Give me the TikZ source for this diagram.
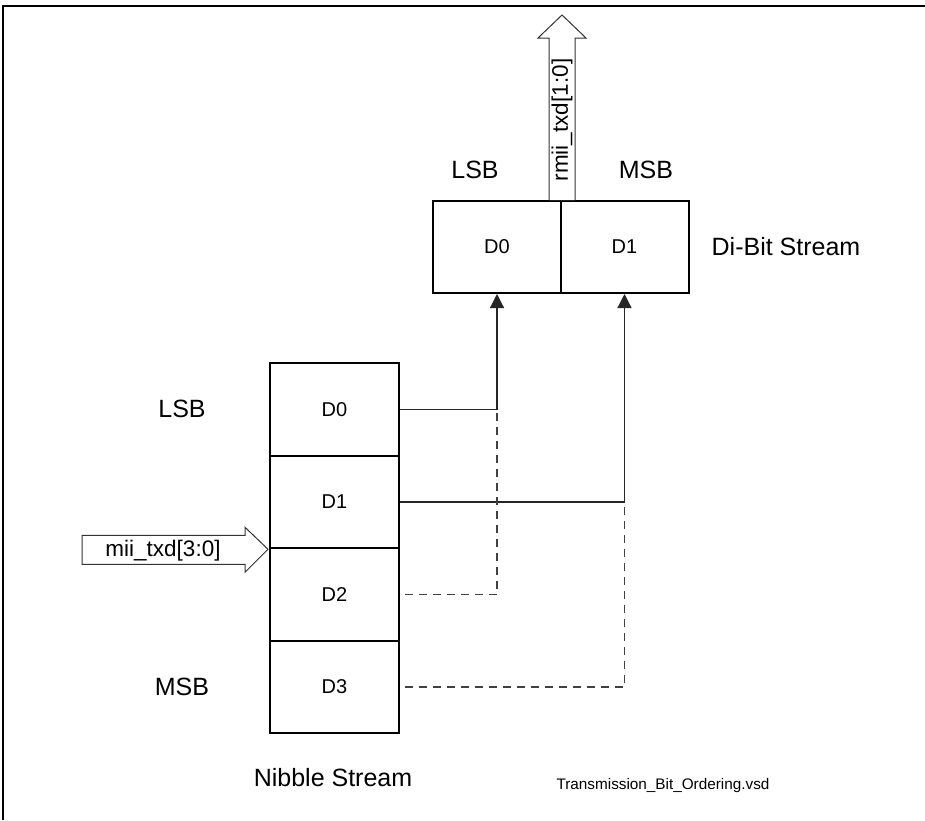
\documentclass[tikz,border=0pt]{standalone}
\usepackage{fontspec}
\setmainfont{Liberation Sans}
\usetikzlibrary{arrows.meta,calc}
\begin{document}
\begin{tikzpicture}[x=1pt,y=-1pt,
  cell/.style={draw,line width=2pt,minimum width=129pt,minimum height=92.5pt,inner sep=0pt,font=\fontsize{20}{24}\selectfont},
  dcell/.style={draw,line width=2pt,minimum width=128pt,minimum height=92pt,inner sep=0pt,font=\fontsize{20}{24}\selectfont},
  lbl/.style={inner sep=0pt,font=\fontsize{25}{30}\selectfont},
  conn/.style={line width=1.2pt,draw=black!85},
  dconn/.style={line width=1.3pt,draw=black!75,dash pattern=on 8pt off 6pt},
  tip/.style={-{Triangle[length=14pt,width=14pt]}},
  blockarrow/.style={draw=black!80,line width=1pt,fill=white}]
\useasboundingbox (0,0) rectangle (925,820);
% frame
\draw[line width=2pt] (3,820) -- (3,6) -- (925,6);
% nibble stream
\node[cell] (n0) at (334.5,409.5) {D0};
\node[cell] (n1) at (334.5,502) {D1};
\node[cell] (n2) at (334.5,594.5) {D2};
\node[cell] (n3) at (334.5,687) {D3};
% di-bit stream
\node[dcell] (d0) at (497,247) {D0};
\node[dcell] (d1) at (624.5,247) {D1};
% labels
\node[lbl] (lsbL) at (182,409) {LSB};
\node[lbl] (msbL) at (182,687) {MSB};
\node[lbl] (nib) at (333,778) {Nibble Stream};
\node[lbl] (lsbT) at (475,170) {LSB};
\node[lbl] (msbT) at (646,170) {MSB};
\node[lbl] (dib) at (786,247) {Di-Bit Stream};
\node[inner sep=0pt,font=\fontsize{15.3}{18}\selectfont] (vsd) at (663,786) {Transmission\_Bit\_Ordering.vsd};
% junction coordinates
\coordinate (j0) at (d0.south |- n0.east);
\coordinate (j1) at (d1.south |- n1.east);
% connectors
\draw[conn,tip] (n0.east) -- (j0) -- (d0.south);
\draw[conn,tip] (n1.east) -- (j1) -- (d1.south);
\draw[dconn] ([xshift=5pt]n2.east) -| (j0);
\draw[dconn] ([xshift=5pt]n3.east) -| (j1);
% top block arrow (rmii_txd)
\coordinate (ta) at (d0.north east);
\draw[blockarrow] ($(ta)+(-13,0)$) -- ($(ta)+(-13,-162)$) -- ($(ta)+(-24,-162)$) -- ($(ta)+(0,-185)$) -- ($(ta)+(24,-162)$) -- ($(ta)+(13,-162)$) -- ($(ta)+(13,0)$);
\node[inner sep=0pt,rotate=90,font=\fontsize{22.5}{27}\selectfont] (rmii) at ($(ta)+(0,-80)$) {rmii\_txd[1:0]};
% left block arrow (mii_txd)
\coordinate (la) at (n1.south west);
\draw[blockarrow] ($(la)+(-187,-14)$) -- ($(la)+(-24,-14)$) -- ($(la)+(-24,-22)$) -- ($(la)+(-1,0)$) -- ($(la)+(-24,23)$) -- ($(la)+(-24,15)$) -- ($(la)+(-187,15)$) -- cycle;
\node[inner sep=0pt,font=\fontsize{22.5}{27}\selectfont] (mii) at ($(la)+(-106,1)$) {mii\_txd[3:0]};
\end{tikzpicture}
\end{document}
